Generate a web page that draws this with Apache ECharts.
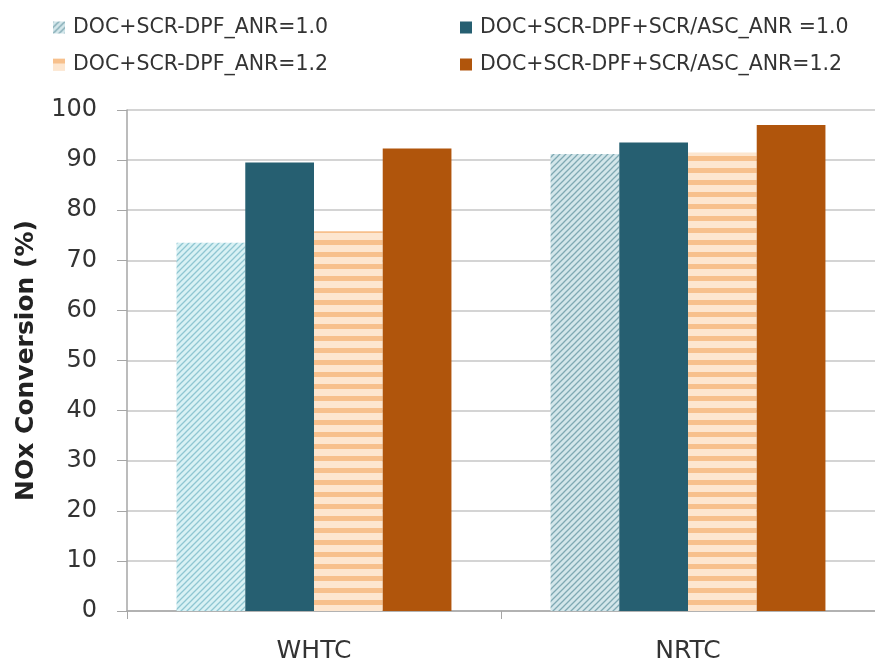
<!DOCTYPE html>
<html>
<head>
<meta charset="utf-8">
<script src="https://cdn.jsdelivr.net/npm/echarts@6/dist/echarts.min.js"></script>
<style>
  html, body { margin: 0; padding: 0; background: #fff; }
  #chart { width: 875px; height: 668px; }
</style>
</head>
<body>
<div id="chart"></div>
<script>
// Drive cycles on the x axis
const categories = ['WHTC', 'NRTC'];

// NOx conversion (%) per configuration
const seriesNames = [
  'DOC+SCR-DPF_ANR=1.0',
  'DOC+SCR-DPF+SCR/ASC_ANR =1.0',
  'DOC+SCR-DPF_ANR=1.2',
  'DOC+SCR-DPF+SCR/ASC_ANR=1.2'
];
const scrDpf10 = [73.5, 91.2];
const scrDpfAsc10 = [89.5, 93.5];
const scrDpf12 = [75.8, 91.5];
const scrDpfAsc12 = [92.3, 97.0];

const yTicks = [0, 10, 20, 30, 40, 50, 60, 70, 80, 90, 100];

const FONT = 'DejaVu Sans';

// Diagonal hatch fill (light background with fine slanted lines)
function diagonalPattern(bg, line) {
  const c = document.createElement('canvas');
  c.width = 6; c.height = 6;
  const g = c.getContext('2d');
  g.fillStyle = bg; g.fillRect(0, 0, 6, 6);
  g.strokeStyle = line; g.lineWidth = 1.3;
  g.beginPath();
  g.moveTo(-1, 7); g.lineTo(7, -1);
  g.moveTo(-4, 4); g.lineTo(4, -4);
  g.moveTo(2, 10); g.lineTo(10, 2);
  g.stroke();
  return c;
}

// Horizontal stripe fill (pale orange bands)
function stripePattern(bg, line) {
  const c = document.createElement('canvas');
  c.width = 8; c.height = 12;
  const g = c.getContext('2d');
  g.fillStyle = bg; g.fillRect(0, 0, 8, 12);
  g.fillStyle = line; g.fillRect(0, 0, 8, 5);
  return c;
}

const hatchBlue = { image: diagonalPattern('#d8f1f4', '#8fc6d2'), repeat: 'repeat' };
const hatchBlue2 = { image: diagonalPattern('#d3e6ea', '#7fa9b3'), repeat: 'repeat' };
const stripeOrange = { image: stripePattern('#fde6cf', '#f7c08c'), repeat: 'repeat' };

const chart = echarts.init(document.getElementById('chart'));

const legendText = { fontSize: 20.5, color: '#333', fontFamily: FONT, padding: [0, 0, 0, 3] };
const legendCommon = {
  orient: 'vertical', top: 12, icon: 'rect',
  itemWidth: 12, itemHeight: 12, itemGap: 16,
  textStyle: legendText
};

const barCommon = { type: 'bar', barGap: '0%', barCategoryGap: '26.5%' };

chart.setOption({
  animation: false,
  backgroundColor: '#ffffff',
  legend: [
    Object.assign({ data: [seriesNames[0], seriesNames[2]], left: 48 }, legendCommon),
    Object.assign({ data: [seriesNames[1], seriesNames[3]], left: 455 }, legendCommon)
  ],
  grid: { left: 127, right: -18, top: 110, bottom: 57 },
  xAxis: {
    type: 'category',
    data: categories,
    axisLine: { lineStyle: { color: '#a6a6a6', width: 1.5 } },
    axisTick: { show: true, length: 8, lineStyle: { color: '#a6a6a6' } },
    axisLabel: { fontSize: 25, color: '#333', fontFamily: FONT, margin: 28 }
  },
  yAxis: {
    type: 'value',
    min: 0, max: 100, interval: 10,
    name: 'NOx Conversion (%)',
    nameLocation: 'middle',
    nameGap: 88,
    nameTextStyle: { fontSize: 25, fontWeight: 'bold', color: '#222', fontFamily: FONT },
    axisLine: { show: true, lineStyle: { color: '#a6a6a6', width: 1.5 } },
    axisTick: { show: true, length: 10, inside: false, lineStyle: { color: '#a6a6a6' } },
    axisLabel: {
      fontSize: 24, color: '#333', fontFamily: FONT, margin: 30,
      formatter: v => (yTicks.includes(v) ? String(v) : '')
    },
    splitLine: { lineStyle: { color: '#d4d4d4', width: 2 } }
  },
  series: [
    Object.assign({ name: seriesNames[0], data: [
        { value: scrDpf10[0], itemStyle: { color: hatchBlue } },
        { value: scrDpf10[1], itemStyle: { color: hatchBlue2 } }
      ], itemStyle: { color: hatchBlue2 } }, barCommon),
    Object.assign({ name: seriesNames[1], data: scrDpfAsc10,
      itemStyle: { color: '#265f71' } }, barCommon),
    Object.assign({ name: seriesNames[2], data: scrDpf12,
      itemStyle: { color: stripeOrange } }, barCommon),
    Object.assign({ name: seriesNames[3], data: scrDpfAsc12,
      itemStyle: { color: '#b0550c' } }, barCommon)
  ]
});
</script>
</body>
</html>
